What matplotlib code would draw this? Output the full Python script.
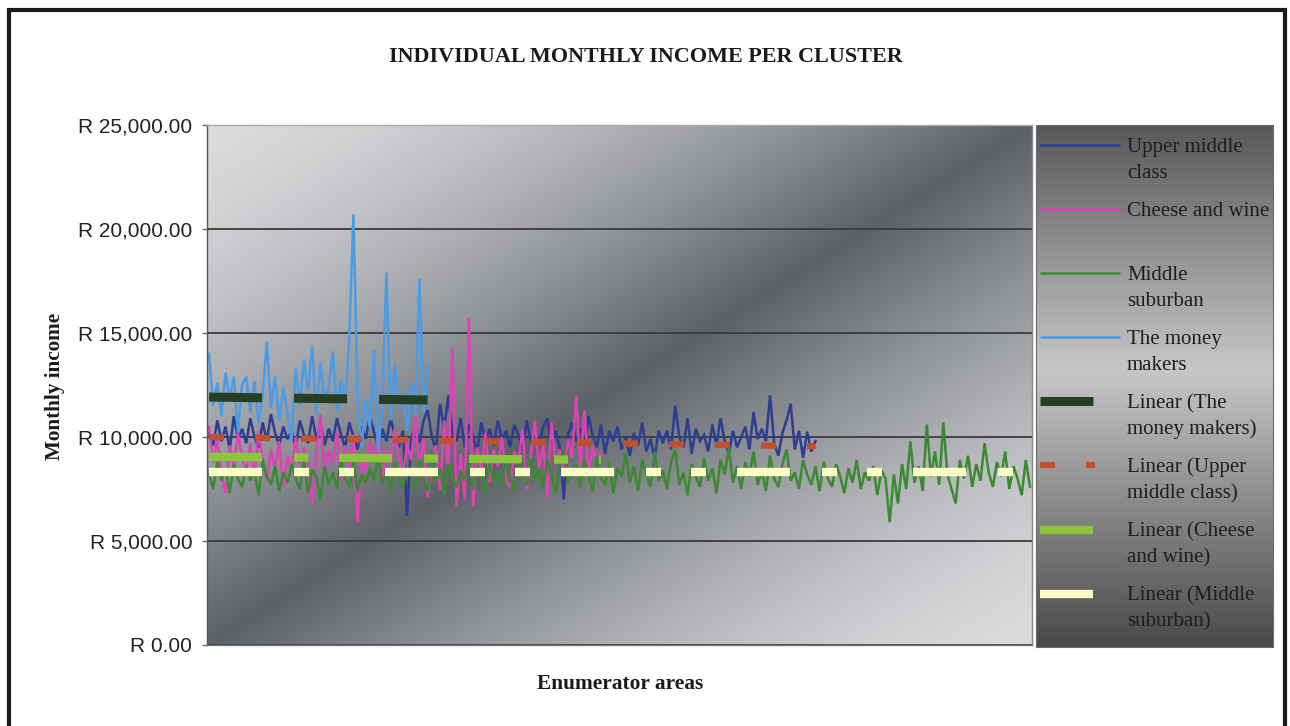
import numpy as np
import matplotlib.pyplot as plt
from matplotlib.patches import Rectangle
from matplotlib.ticker import FuncFormatter

plt.rcParams['lines.scale_dashes'] = False

# ---- data (one value per enumerator area) ----
n_areas = 200

upper_middle = [
    10200, 9600, 10800, 9800, 10500, 9400, 11000, 9900, 10400, 9700,
    10900, 10000, 9500, 10700, 9800, 11100, 10200, 9600, 10500, 9900,
    10300, 9500, 10800, 10100, 9700, 11000, 9900, 10600, 9600, 10400,
    9800, 10900, 10100, 9500, 10700, 10000, 9400, 10500, 9900, 11000,
    10200, 9600, 10400, 9800, 10900, 10100, 9500, 10300, 6200, 9900,
    10500, 9700, 10800, 11300, 10000, 9400, 11600, 10400, 12000, 10200,
    9800, 10900, 9500, 10600, 10000, 9300, 10700, 9800, 10400, 9600,
    10800, 9900, 10300, 9500, 10600, 10100, 9400, 10800, 9800, 10200,
    9600, 10500, 10900, 9700, 10300, 9500, 7000, 10100, 10700, 9800,
    10400, 9600, 11000, 10100, 9500, 10600, 9200, 10300, 9800, 10500,
    9400, 10000, 9100, 10200, 9600, 10700, 9300, 9900, 9000, 10300,
    9700, 10300, 9400, 11500, 10000, 9500, 10900, 9200, 10400, 9800,
    10100, 9300, 10600, 9600, 10900, 9800, 9200, 10300, 9500, 10000,
    10500, 9400, 11200, 9900, 10400, 9800, 12000, 9700, 9100, 10200,
    10800, 11600, 9400, 10300, 9000, 10250, 9300, 9800,
]

cheese_wine = [
    10500, 8800, 9900, 8200, 7300, 9600, 8600, 10200, 9000, 8400,
    9700, 8100, 10300, 8900, 7900, 9400, 8500, 9800, 7600, 9100,
    8300, 10000, 8700, 9500, 8600, 6800, 9300, 11100, 8200, 9400,
    8700, 10300, 7900, 9600, 8400, 10100, 5900, 9000, 8300, 9800,
    8800, 10200, 7800, 9500, 8600, 10400, 9100, 8200, 9700, 8900,
    11000, 8500, 9900, 7100, 8900, 9600, 7450, 10800, 8400, 14300,
    6650, 9200, 7000, 15700, 6650, 9500, 8300, 10200, 7800, 9400,
    8600, 10000, 7900, 7600, 9300, 8800, 10400, 7450, 9100, 10800,
    8400, 9700, 7100, 10700, 8700, 9400, 8100, 9900, 9000, 12000,
    8500, 11300, 8200, 9600, 8800, 9300,
]

middle_suburban = [
    8200, 7500, 8800, 7900, 8500, 7300, 8700, 8000, 7600, 8600,
    7900, 8400, 7200, 8900, 8100, 7700, 8600, 7400, 8300, 7800,
    8700, 8000, 7500, 8900, 7300, 8400, 8100, 7000, 8600, 7700,
    8300, 7500, 9000, 8000, 7600, 8800, 7400, 8200, 7800, 8500,
    7900, 9100, 7700, 8400, 7300, 8800, 8000, 7600, 8600, 8100,
    7500, 8900, 8200, 7400, 9300, 7800, 8500, 7200, 8700, 8000,
    7600, 8400, 7900, 9000, 7500, 8600, 8100, 7300, 8800, 7800,
    8300, 7600, 9200, 8000, 7400, 8700, 8200, 7700, 9000, 7900,
    8500, 7500, 8900, 8100, 7300, 8600, 9400, 7800, 8300, 8700,
    7600, 8900, 8200, 7400, 9100, 8000, 7700, 8800, 7300, 8500,
    8100, 9200, 7800, 8600, 7400, 8900, 8200, 7600, 9300, 7900,
    8400, 7500, 8800, 9400, 7700, 8300, 7200, 8700, 8100, 7600,
    9000, 7900, 8500, 7300, 8900, 8200, 9500, 7800, 8600, 7500,
    8800, 8100, 9300, 7700, 8400, 7400, 9100, 8000, 7600, 8700,
    9400, 7900, 8300, 7500, 8900, 8200, 7700, 8600, 7400, 8800,
    8000, 7600, 8700, 8100, 7300, 8500, 7800, 8900, 7500, 8300,
    7900, 8600, 7200, 8400, 8000, 5900, 8200, 6800, 8700, 7500,
    9800, 7800, 8600, 7400, 10600, 8100, 9300, 7700, 10700, 8200,
    7500, 6800, 8900, 8000, 9100, 7600, 8700, 7900, 9700, 8300,
    7600, 8800, 8100, 9300, 7500, 8600, 8000, 7200, 8900, 7600,
]

money_makers = [
    14000, 11500, 12600, 11000, 13100, 11800, 12900, 10200, 12500, 12900,
    11200, 12700, 10600, 12000, 14600, 11400, 12900, 10800, 12400, 11200,
    9800, 13300, 11500, 13700, 12200, 14400, 11000, 13600, 11700, 12400,
    14100, 11200, 12800, 11600, 14800, 20700, 12000, 9500, 11800, 10400,
    14200, 9300, 11500, 17900, 10800, 13500, 11400, 12200, 10300, 12600,
    11000, 17600, 11200, 13400,
]

# linear trend lines: value at first and last point of each series
trend_money = [11920, 11780]
trend_upper = [10000, 9550]
trend_cheese = [9050, 8900]
trend_suburban = [8300, 8300]

y_ticks = [0, 5000, 10000, 15000, 20000, 25000]

# ---- styles ----
pt = 0.72  # pixels -> points at 100 dpi
series = [
    ("Upper middle\nclass", upper_middle, dict(color="#2c3d92", lw=1.8)),
    ("Cheese and wine", cheese_wine, dict(color="#de42b4", lw=1.8)),
    ("Middle\nsuburban", middle_suburban, dict(color="#3b8a33", lw=1.8)),
    ("The money\nmakers", money_makers, dict(color="#4c9be6", lw=1.8)),
]
trends = [
    ("Linear (The\nmoney makers)", len(money_makers), trend_money,
     dict(color="#263f23", lw=6.5, ls=(0, (53 * pt, 32 * pt)))),
    ("Linear (Upper\nmiddle class)", len(upper_middle), trend_upper,
     dict(color="#c2502c", lw=4.5, ls=(0, (15 * pt, 31 * pt)))),
    ("Linear (Cheese\nand wine)", len(cheese_wine), trend_cheese,
     dict(color="#8cc63e", lw=6, ls=(0, (53 * pt, 32 * pt, 14 * pt, 31 * pt)))),
    ("Linear (Middle\nsuburban)", len(middle_suburban), trend_suburban,
     dict(color="#fdfcc2", lw=6, ls=(0, (53 * pt, 32 * pt, 15 * pt, 30 * pt, 15 * pt, 31 * pt)))),
]

serif = "Liberation Serif"
sans = "Liberation Sans"

W, H = 1290, 726
fig = plt.figure(figsize=(W / 100, H / 100), dpi=100)
fig.patch.set_facecolor("white")

def rect(x0, y0, x1, y1):
    return [x0 / W, 1 - y1 / H, (x1 - x0) / W, (y1 - y0) / H]

# outer frame
fig.add_artist(Rectangle((8.5 / W, -0.05), (1285 - 8.5) / W, 1.05 - 10 / H,
                         transform=fig.transFigure, fill=False, lw=3, ec="#1a1a1a"))

# plot area gradient (light corners top-left / bottom-right, dark diagonal)
plot_rect = rect(207, 125, 1032, 645)
bg = fig.add_axes(plot_rect, zorder=0)
gx, gy = np.meshgrid(np.linspace(0, 1, 400), np.linspace(1, 0, 300))
s = (1 - np.abs(gx + (1 - gy) - 1)) ** 1.5
light = np.array([0.86, 0.86, 0.87])
dark = np.array([0.36, 0.38, 0.40])
bg.imshow(light + (dark - light) * s[..., None], aspect="auto", extent=[0, 1, 0, 1])
bg.axis("off")

ax = fig.add_axes(plot_rect, zorder=1)
ax.set_facecolor("none")
x_all = np.arange(n_areas)

for name, vals, st in series:
    ax.plot(x_all[:len(vals)], vals, solid_joinstyle="miter", **st)
for name, n, ends, st in trends:
    ax.plot([0, n - 1], ends, solid_capstyle="butt", dash_capstyle="butt", **st)

ax.set_xlim(-0.5, n_areas - 0.5)
ax.set_ylim(0, 25000)
ax.set_yticks(y_ticks)
ax.yaxis.set_major_formatter(FuncFormatter(lambda v, p: f"R {v:,.2f}"))
ax.set_xticks([])
ax.yaxis.grid(True, color="#3a3a3a", lw=1.3)
ax.set_axisbelow(True)
ax.tick_params(axis="y", length=3.6, width=1, color="#666666", pad=7,
               labelsize=15, labelcolor="#222222")
for lab in ax.get_yticklabels():
    lab.set_family(sans)
for side, c in [("left", "#555555"), ("bottom", "#777777"), ("top", "#aaaaaa"), ("right", "#888888")]:
    ax.spines[side].set_color(c)
    ax.spines[side].set_linewidth(1)

# titles
fig.text(646 / W, 1 - 57 / H, "INDIVIDUAL MONTHLY INCOME PER CLUSTER", family=serif,
         weight="bold", fontsize=15.9, ha="center", va="center", color="#1a1a1a")
fig.text(620 / W, 1 - 684 / H, "Enumerator areas", family=serif, weight="bold",
         fontsize=15.4, ha="center", va="center", color="#1a1a1a")
fig.text(55 / W, 1 - 386 / H, "Monthly income", family=serif, weight="bold",
         fontsize=15.2, ha="center", va="center", rotation=90, color="#1a1a1a")

# legend box with vertical gradient
lw_, lh_ = 237, 522
lax = fig.add_axes(rect(1036, 125, 1036 + lw_, 125 + lh_), zorder=2)
f = np.linspace(0, 1, 300)[:, None] * np.ones((1, 50))
sl = np.clip(1 - np.abs(f - 0.47) / 0.53, 0, 1)
ldark = np.array([0.29, 0.29, 0.30])
llight = np.array([0.78, 0.78, 0.79])
lax.imshow(ldark + (llight - ldark) * sl[..., None], aspect="auto",
           extent=[0, lw_, lh_, 0])
lax.set_xlim(0, lw_)
lax.set_ylim(lh_, 0)
lax.set_xticks([])
lax.set_yticks([])
for sp in lax.spines.values():
    sp.set_color("#6a6a6a")
    sp.set_linewidth(0.8)

entry_y0, entry_step = 20, 64.1
entries = [(n, st, 80) for n, v, st in series] + [(n, st, 55) for n, k, e, st in trends]
for k, (name, st, hl) in enumerate(entries):
    hy = entry_y0 + k * entry_step
    lax.plot([4, 4 + hl], [hy, hy], dash_capstyle="butt", solid_capstyle="butt", **st)
    for j, line in enumerate(name.split("\n")):
        lax.text(91, hy + 7 + 26 * j, line, family=serif, fontsize=15,
                 color="#1e1e1e", va="baseline", ha="left")

fig.savefig("out.png", dpi=100, facecolor="white")
